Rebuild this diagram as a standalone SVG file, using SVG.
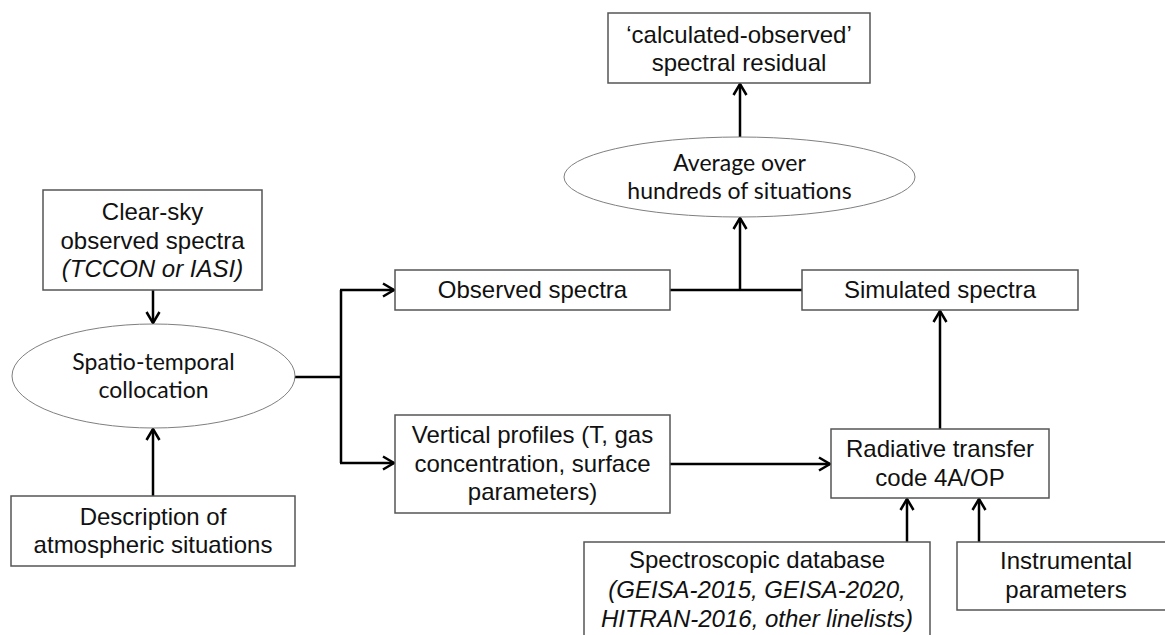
<svg xmlns="http://www.w3.org/2000/svg" width="1165" height="635" viewBox="0 0 1165 635">
<style>
.box{fill:#fff;stroke:#555;stroke-width:1.5}
.ell{fill:#fff;stroke:#7f7f7f;stroke-width:1}
.t{font-family:"Liberation Sans",Arial,sans-serif;font-size:24px;fill:#111;text-anchor:middle}
.it{font-style:italic}
.c{font-family:Lato,"Open Sans",sans-serif;font-size:23px;fill:#111;text-anchor:middle}
.ln{fill:none;stroke:#000;stroke-width:2.5}
.ar{fill:none;stroke:#000;stroke-width:2.5;marker-end:url(#ah)}
</style>
<defs>
<marker id="ah" markerUnits="userSpaceOnUse" markerWidth="16" markerHeight="18" refX="12" refY="8" orient="auto" viewBox="0 0 16 16">
<path d="M1,1.5 L12,8 L1,14.5" fill="none" stroke="#000" stroke-width="2.5"/>
</marker>
</defs>
<rect width="1165" height="635" fill="#fff"/>
<g id="connectors">
<path class="ar" d="M153,290 V323"/>
<path class="ar" d="M153,496 V429"/>
<path class="ln" d="M295,377 H341 M341,290 V463"/>
<path class="ar" d="M340,290 H394"/>
<path class="ar" d="M340,463 H394"/>
<path class="ar" d="M670,464 H830"/>
<path class="ln" d="M670,290 H802"/>
<path class="ar" d="M740,290 V218"/>
<path class="ar" d="M740,137 V84"/>
<path class="ar" d="M940,429 V311"/>
<path class="ar" d="M907,542 V499"/>
<path class="ar" d="M979,542 V499"/>
</g>
<g id="residual">
<rect class="box" x="608" y="13" width="262" height="70"/>
<text class="t" x="739" y="43">‘calculated-observed’</text>
<text class="t" x="739" y="71">spectral residual</text>
</g>
<g id="average">
<ellipse class="ell" cx="739.5" cy="177" rx="175.5" ry="40"/>
<text class="c" x="739.5" y="171">Average over</text>
<text class="c" x="739.5" y="199">hundreds of situations</text>
</g>
<g id="clearsky">
<rect class="box" x="43" y="190" width="219" height="100"/>
<text class="t" x="152.5" y="220">Clear-sky</text>
<text class="t" x="152.5" y="248.5">observed spectra</text>
<text class="t it" x="152.5" y="277">(TCCON or IASI)</text>
</g>
<g id="collocation">
<ellipse class="ell" cx="153.5" cy="376" rx="141.5" ry="52"/>
<text class="c" x="153.5" y="370">Spatio-temporal</text>
<text class="c" x="153.5" y="398">collocation</text>
</g>
<g id="description">
<rect class="box" x="11" y="496" width="284" height="70"/>
<text class="t" x="153" y="525">Description of</text>
<text class="t" x="153" y="553">atmospheric situations</text>
</g>
<g id="observed">
<rect class="box" x="395" y="270" width="275" height="40"/>
<text class="t" x="532.5" y="298">Observed spectra</text>
</g>
<g id="profiles">
<rect class="box" x="395" y="415" width="275" height="98"/>
<text class="t" x="532.5" y="443">Vertical profiles (T, gas</text>
<text class="t" x="532.5" y="472">concentration, surface</text>
<text class="t" x="532.5" y="500">parameters)</text>
</g>
<g id="simulated">
<rect class="box" x="802" y="270" width="276" height="40"/>
<text class="t" x="940" y="298">Simulated spectra</text>
</g>
<g id="radiative">
<rect class="box" x="831" y="429" width="218" height="69"/>
<text class="t" x="940" y="457">Radiative transfer</text>
<text class="t" x="940" y="486">code 4A/OP</text>
</g>
<g id="spectroscopic">
<rect class="box" x="584" y="542" width="346" height="110"/>
<text class="t" x="757" y="568">Spectroscopic database</text>
<text class="t it" x="757" y="598">(GEISA-2015, GEISA-2020,</text>
<text class="t it" x="757" y="627">HITRAN-2016, other linelists)</text>
</g>
<g id="instrumental">
<rect class="box" x="957" y="542" width="220" height="68"/>
<text class="t" x="1066" y="569">Instrumental</text>
<text class="t" x="1066" y="598">parameters</text>
</g>
</svg>
